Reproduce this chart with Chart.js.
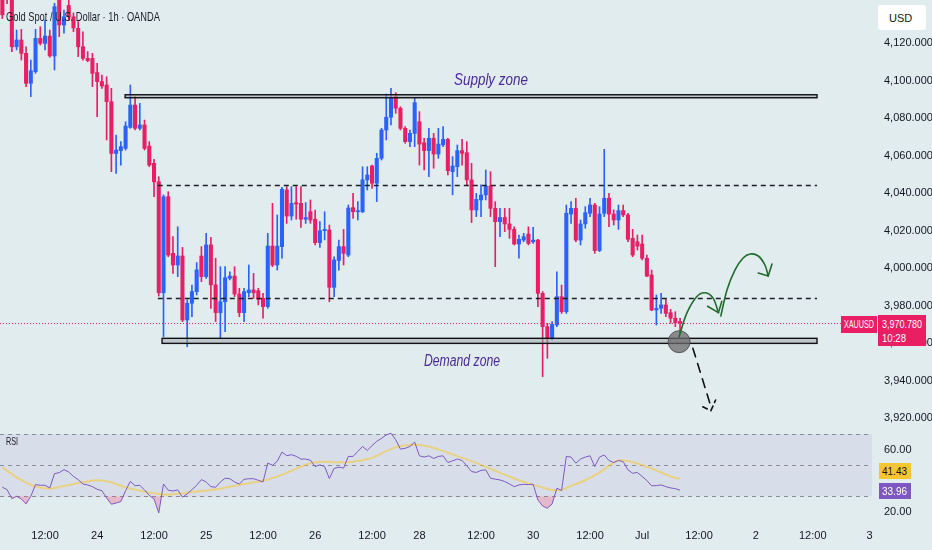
<!DOCTYPE html>
<html>
<head>
<meta charset="utf-8">
<script src="https://cdn.jsdelivr.net/npm/chart.js@4.4.1/dist/chart.umd.min.js"></script>
<style>
  html, body { margin:0; padding:0; background:#e1ecef; }
  #wrap { position:relative; width:932px; height:550px; overflow:hidden; background:#e1ecef;
          font-family:'Liberation Sans', Arial, sans-serif; color:#131722; }
  #mainCanvas { position:absolute; left:0; top:0; }
  #rsiCanvas { position:absolute; left:0; top:425px; }
  .ov { position:absolute; white-space:nowrap; transform-origin:0 50%; line-height:1; }
  #title { left:6px; top:10px; font-size:13px; color:#1a1d26; }
  .zone { font-style:italic; font-size:16px; color:#4b2a99; }
  #supplyTxt { left:454px; top:72px; }
  #demandTxt { left:424px; top:353px; }
  #rsiTxt { left:6px; top:436px; font-size:11px; }
  .box { position:absolute; box-sizing:border-box; }
  #usd { left:878px; top:5px; width:48px; height:25px; background:#ffffff; border-radius:3px; }
  #usd span { position:absolute; left:11px; top:7px; font-size:11px; }
  .tagtxt { position:absolute; white-space:nowrap; line-height:1; transform-origin:0 50%; }
</style>
</head>
<body>
<div id="wrap">
  <canvas id="mainCanvas" width="932" height="425" style="width:932px;height:425px"></canvas>
  <canvas id="rsiCanvas" width="932" height="125" style="width:932px;height:125px"></canvas>
  <div class="ov" id="title">Gold Spot / U.S. Dollar · 1h · OANDA</div>
  <div class="ov zone" id="supplyTxt">Supply zone</div>
  <div class="ov zone" id="demandTxt">Demand zone</div>
  <div class="ov" id="rsiTxt">RSI</div>
  <div class="box" id="usd"><span>USD</span></div>
  <div class="box" id="symTag" style="background:#e91e63;width:36px;height:17px;left:841px;">
    <span class="tagtxt" id="symTxt" style="left:3px;top:4px;font-size:10px;color:#fff;">XAUUSD</span></div>
  <div class="box" id="priceTag" style="background:#e91e63;width:48px;height:31px;left:878px;">
    <span class="tagtxt" id="priceTxt" style="left:4px;top:4px;font-size:11px;color:#fff;"></span>
    <span class="tagtxt" id="timeTxt" style="left:4px;top:18px;font-size:11px;color:#fff;">10:28</span></div>
  <div class="box" id="maTag" style="background:#f7c531;width:32px;height:16px;left:879px;">
    <span class="tagtxt" id="maTxt" style="left:3px;top:3px;font-size:11px;color:#131722;"></span></div>
  <div class="box" id="rsiTag" style="background:#7e57c2;width:32px;height:16px;left:879px;">
    <span class="tagtxt" id="rsiTagTxt" style="left:3px;top:3px;font-size:11px;color:#fff;"></span></div>
</div>
<script>
// ---------------- DATA ----------------
const slotCount = 184;                       // hourly slots on the time axis (incl. future space)
const tickSlots = [9, 20, 32, 43, 55, 66, 78, 88, 101, 112, 124, 135, 147, 159, 171, 183];
const tickTexts = ['12:00','24','12:00','25','12:00','26','12:00','28','12:00','30','12:00','Jul','12:00','2','12:00','3'];

const opens = [4147,4150,4145,4118.0,4121.6,4114.5,4098.5,4104.7,4122.5,4119.8,
4123.7,4113.1,4143,4129.6,4140,4134,4127.8,4118.0,4111.8,4111.8,
4104.2,4099.4,4097.6,4088.7,4061.1,4062.6,4063.8,4075.0,4086.9,4074.5,
4076.3,4065.0,4055.8,4046.0,3986.8,4038.0,4007.8,4001.6,4006.4,3972.3,
3981.2,3987.4,4006.4,3995.4,4012.3,3991.0,3976.2,3982.0,3994.5,3995.7,
3986.1,3976.2,3986.8,3988.3,3987.9,3983.8,3979.4,4011.7,4001.6,4011.4,
4041.6,4027.7,4034.9,4034.5,4026.0,4030.0,4026.0,4013.5,4019.9,4020.3,
3989.7,4004.0,4011.4,4006.9,4032.2,4030.0,4030.0,4047.0,4054.4,4045.2,
4058.5,4073.6,4080.4,4091.4,4085.2,4074.5,4067.4,4071.8,4078.0,4066.8,
4062.6,4069.2,4060.8,4065.7,4068.6,4051.4,4054.0,4062.6,4061.5,4047.0,
4031.0,4036.3,4039.0,4043.7,4031.8,4024.7,4026.9,4023.5,4020.6,4012.8,
4014.9,4018.1,4014.0,4014.9,3986.5,3968.7,3962.5,3969.6,3984.7,3976.7,
4028.8,4031.8,4014.9,4023.5,4029.2,4033.6,4009.3,4029.2,4037.2,4028.8,
4025.6,4030.6,4028.3,4015.8,4014.0,4012.8,4005.2,3996.3,3977.6,3978.5,
3980.3,3976.2,3973.2,3971.4];
const highs = [4149,4153,4147,4126.9,4127.3,4118.0,4110.9,4127.3,4128.7,4132.3,
4126.9,4141.2,4146,4137.6,4145,4136,4131.4,4126.0,4115.4,4114.5,
4109.1,4102.9,4102.0,4095.8,4070.9,4067.4,4078.0,4097.6,4091.4,4087.8,
4078.9,4067.4,4058.0,4048.7,4039.0,4040.7,4016.7,4022.0,4011.0,3983.0,
3990.9,4002.9,4011.4,4018.5,4016.4,4005.2,4000.7,4000.7,3998.0,4000.7,
3989.2,3989.2,4001.6,3997.1,3989.2,3986.5,4018.5,4034.5,4028.3,4043.0,
4043.4,4043.4,4043.4,4043.4,4034.9,4036.3,4030.9,4024.7,4030.0,4022.9,
4006.0,4014.9,4020.6,4033.6,4039.8,4035.4,4054.0,4054.0,4054.9,4061.2,
4074.5,4092.8,4095.8,4093.5,4086.0,4075.4,4073.6,4090.5,4083.4,4069.2,
4074.5,4071.8,4074.5,4075.4,4069.2,4059.4,4065.6,4068.6,4067.4,4055.8,
4039.8,4044.3,4052.3,4051.4,4035.4,4031.8,4031.8,4031.8,4022.0,4017.6,
4018.5,4022.0,4021.7,4015.3,3987.4,3970.5,3971.4,3998.0,3990.9,4033.6,
4035.4,4037.2,4025.6,4032.7,4037.2,4034.5,4032.7,4063.3,4039.8,4031.0,
4033.6,4033.6,4029.2,4020.6,4017.6,4017.6,4006.9,3998.9,3985.6,3986.5,
3983.3,3978.0,3976.7,3973.2];
const lows = [4133,4141,4115.4,4116.3,4110.9,4096.7,4091.4,4103.8,4118.9,4116.3,
4112.4,4105.6,4123.4,4125.2,4132,4126,4112.7,4110.9,4110.0,4096.7,
4080.7,4095.8,4068.3,4051.4,4050.5,4054.9,4062.9,4074.5,4073.6,4073.6,
4062.9,4054.0,4038.0,3985.0,3963.4,4006.0,3997.1,3995.4,3971.4,3958.0,
3974.0,3985.6,3992.7,3994.5,3978.5,3971.4,3962.5,3966.0,3993.6,3984.7,
3974.0,3971.4,3984.7,3983.8,3980.3,3973.2,3978.5,4000.7,3998.9,4005.2,
4023.8,4025.6,4026.0,4021.7,4023.8,4023.8,4012.3,4011.0,4015.0,3982.0,
3984.7,3998.9,4001.6,4006.0,4026.5,4025.6,4029.5,4041.6,4042.5,4035.4,
4057.6,4068.3,4076.3,4082.5,4073.6,4066.5,4064.7,4064.7,4054.9,4052.3,
4048.7,4053.2,4058.5,4064.7,4049.6,4039.0,4048.7,4054.9,4044.3,4024.2,
4027.4,4027.4,4036.3,4027.4,4000.7,4016.7,4019.4,4015.8,4012.3,4005.2,
4014.0,4012.3,4013.1,3979.4,3942.0,3951.8,3961.6,3968.7,3975.8,3975.8,
4023.8,4014.0,4012.3,4021.2,4027.4,4007.8,4008.7,4027.4,4022.0,4022.9,
4020.6,4027.4,4014.0,4006.0,4009.6,4004.3,3995.4,3977.2,3969.6,3975.8,
3974.0,3970.5,3968.7,3965.2];
const closes = [4135,4145,4118.0,4121.6,4114.5,4098.5,4105.2,4122.5,4119.8,4123.7,
4113.1,4139.4,4129.6,4134.0,4134,4128,4118.0,4111.8,4110.6,4103.8,
4099.4,4097.1,4088.7,4061.1,4062.9,4064.7,4075.7,4086.9,4074.5,4076.3,
4063.8,4054.9,4046.0,3986.8,4038.0,4006.9,4001.6,4006.4,3972.3,3981.2,
3987.4,3999.0,3995.4,4012.3,3991.0,3976.2,3982.0,3994.8,3995.7,3986.1,
3976.2,3987.4,3988.3,3986.8,3983.3,3979.4,4011.7,4001.6,4011.7,4042.0,
4027.7,4034.5,4034.1,4026.0,4026.9,4025.6,4013.5,4019.9,4020.6,3989.7,
4004.3,4011.4,4007.8,4032.0,4030.0,4030.4,4047.0,4049.6,4045.2,4058.5,
4073.6,4080.4,4090.5,4085.2,4074.5,4067.4,4071.8,4088.2,4066.1,4062.6,
4069.2,4060.8,4066.1,4068.6,4051.9,4054.4,4062.6,4061.2,4047.0,4031.0,
4036.6,4038.9,4043.7,4031.8,4024.7,4026.9,4023.5,4020.6,4012.8,4015.3,
4016.7,4013.1,4014.9,3986.5,3968.7,3962.5,3970.0,3984.7,3976.7,4029.2,
4031.8,4014.9,4023.5,4029.5,4033.6,4009.3,4028.8,4037.2,4028.8,4025.6,
4030.6,4028.3,4015.3,4006.9,4011.7,4005.2,3995.7,3977.6,3978.5,3980.3,
3975.8,3973.2,3970.9,3970.78];

const rsiValues = [35.8,34.3,28.5,30.0,28.3,25.1,30.0,37.5,37.1,37.1,
35.3,44.5,45.2,47.1,45.6,42.8,40.7,37.9,37.3,36.2,
34.5,33.6,28.9,24.9,25.7,26.6,33.6,39.6,36.8,37.1,
34.1,30.6,28.3,19.3,37.9,33.9,33.4,34.1,29.4,31.5,
34.3,37.1,40.7,39.2,36.2,35.8,39.2,41.6,41.3,39.2,
37.9,40.9,41.3,41.3,40.3,39.2,51.4,49.9,52.5,58.4,
56.1,56.7,55.7,53.9,53.9,53.2,49.1,50.2,49.1,41.4,
47.9,48.7,48.1,55.6,55.6,58.8,62.0,59.5,62.5,65.3,
67.2,69.4,70.5,66.3,60.3,60.8,62.0,64.8,56.0,55.2,
56.0,54.3,55.6,56.0,51.7,52.8,53.9,53.0,49.6,45.9,
45.3,46.6,47.0,41.6,41.0,40.5,39.5,37.9,36.2,37.3,
37.7,37.5,37.8,27.6,23.8,22.3,25.1,35.2,33.7,55.6,
55.2,51.3,53.9,55.2,56.0,49.1,55.2,56.5,53.0,51.7,
53.0,52.2,47.0,44.8,45.3,42.7,40.1,36.7,36.9,37.3,
36.2,35.4,34.9,33.96];
const rsiMaValues = [48.6,46.5,44.3,42.2,40.5,38.8,37.5,36.2,35.6,35.1,
34.9,35.3,36.0,36.6,37.3,37.9,38.6,39.0,39.6,40.1,
40.3,40.1,39.6,39.0,37.9,36.8,35.8,34.9,34.3,33.6,
33.0,32.4,31.9,31.5,31.1,31.1,31.3,31.7,31.9,32.4,
32.8,33.0,33.4,33.6,34.1,34.5,34.9,35.6,36.2,36.6,
37.3,37.9,38.3,39.0,39.4,40.1,40.7,41.8,42.8,43.9,
45.0,46.5,47.8,49.0,50.2,51.2,51.8,52.1,52.2,52.2,
51.9,51.9,51.9,51.9,52.2,52.6,53.2,53.9,54.7,56.0,
57.5,59.0,60.3,61.4,62.3,62.7,63.1,63.1,62.9,62.5,
61.8,61.0,60.1,59.0,58.0,56.9,55.8,54.7,53.7,52.6,
51.5,50.2,48.9,47.6,46.4,45.1,43.8,42.7,41.4,40.3,
39.3,38.2,37.3,36.5,35.6,34.7,34.1,33.7,34.3,35.4,
36.7,37.8,39.0,40.3,41.8,43.6,45.3,47.4,49.6,51.7,
53.0,53.0,52.6,51.9,51.1,50.0,48.9,47.9,46.6,45.3,
44.0,42.7,41.8,41.43];

const priceTicks = [3920,3940,3960,3980,4000,4020,4040,4060,4080,4100,4120];
const priceRange = [3916.27, 4142.93];
const rsiTicks = [20, 60];
const rsiRange = [9.65, 75.78];
const rsiLevels = [70, 50, 30];

// drawing annotations (in axis units: slot index, price)
const zoneRects = [
  { from: 25.9, to: 171.9, low: 4090.8, high: 4092.4 },   // supply zone
  { from: 33.7, to: 171.9, low: 3959.8, high: 3962.5 }    // demand zone
];
const levelLines = [
  { from: 32.8, to: 171.9, price: 4044.3 },
  { from: 32.8, to: 171.9, price: 3984.2 }
];
const circleMark = { slot: 142.8, price: 3960.7 };
const greenPath1 = [[142.8,3963.4],[144.4,3975.8],[146.5,3984.7],[148.3,3986.8],[150.0,3983.8],[151.1,3976.2]];
const greenHead1 = [[148.8,3979.6],[151.1,3976.2],[151.8,3982.2]];
const greenPath2 = [[151.6,3974.4],[152.9,3988.3],[154.6,3999.0],[156.3,4005.3],[157.8,4007.5],[159.5,4006.4],[160.9,4001.6],[161.6,3995.7]];
const greenHead2 = [[159.5,3997.3],[161.6,3995.7],[162.4,4002.1]];
const dashPath = [[145.7,3957.2],[149.3,3927.8]];
const dashHead = [[147.8,3926.0],[149.5,3923.9],[150.5,3929.6]];

// ---------------- BUILD ----------------
const UP = '#2962ff', DOWN = '#e91e63';
const xLabels = Array.from({length: slotCount}, () => '');
tickSlots.forEach((s, i) => { xLabels[s] = tickTexts[i]; });
const pad = arr => arr.concat(Array(slotCount - arr.length).fill(null));
const candleColors = pad(opens.map((o, i) => closes[i] >= o ? UP : DOWN));
const bodyData = pad(opens.map((o, i) => [o, closes[i]]));
const wickData = pad(lows.map((l, i) => [l, highs[i]]));
const lastClose = closes[closes.length - 1];
const FONT = "'Liberation Sans Narrow','Liberation Sans',Arial,sans-serif";

function smoothPath(ctx, pts) {
  ctx.moveTo(pts[0].x, pts[0].y);
  for (let i = 0; i < pts.length - 1; i++) {
    const p0 = pts[i - 1] || pts[i], p1 = pts[i], p2 = pts[i + 1], p3 = pts[i + 2] || p2;
    ctx.bezierCurveTo(p1.x + (p2.x - p0.x) / 6, p1.y + (p2.y - p0.y) / 6,
                      p2.x - (p3.x - p1.x) / 6, p2.y - (p3.y - p1.y) / 6, p2.x, p2.y);
  }
}

const annotPlugin = {
  id: 'annot',
  afterDatasetsDraw(chart) {
    const { ctx, chartArea } = chart;
    const xs = chart.scales.x, ys = chart.scales.y;
    const P = p => ({ x: xs.getPixelForValue(p[0]), y: ys.getPixelForValue(p[1]) });
    ctx.save();
    ctx.strokeStyle = '#e91e63'; ctx.lineWidth = 1; ctx.setLineDash([1, 2]);
    const py = Math.round(ys.getPixelForValue(lastClose)) + 0.5;
    ctx.beginPath(); ctx.moveTo(chartArea.left, py); ctx.lineTo(chartArea.right, py); ctx.stroke();
    ctx.strokeStyle = '#1d1f24'; ctx.lineWidth = 1.4; ctx.setLineDash([5, 4]);
    levelLines.forEach(l => {
      const y = Math.round(ys.getPixelForValue(l.price)) + 0.5;
      ctx.beginPath(); ctx.moveTo(xs.getPixelForValue(l.from), y); ctx.lineTo(xs.getPixelForValue(l.to), y); ctx.stroke();
    });
    ctx.setLineDash([]);
    zoneRects.forEach(z => {
      const x0 = xs.getPixelForValue(z.from), x1 = xs.getPixelForValue(z.to);
      const y0 = ys.getPixelForValue(z.high), y1 = ys.getPixelForValue(z.low);
      ctx.fillStyle = 'rgba(160,168,172,0.55)';
      ctx.fillRect(x0, y0, x1 - x0, y1 - y0);
      ctx.strokeStyle = '#111'; ctx.lineWidth = 1.4;
      ctx.strokeRect(x0, y0, x1 - x0, y1 - y0);
    });
    const c = P([circleMark.slot, circleMark.price]);
    ctx.beginPath(); ctx.arc(c.x, c.y, 11, 0, Math.PI * 2);
    ctx.fillStyle = 'rgba(105,105,105,0.75)'; ctx.fill();
    ctx.strokeStyle = 'rgba(70,70,70,0.8)'; ctx.lineWidth = 1; ctx.stroke();
    ctx.strokeStyle = '#1f6b2a'; ctx.lineWidth = 1.6; ctx.lineCap = 'round'; ctx.lineJoin = 'round';
    [[greenPath1, greenHead1], [greenPath2, greenHead2]].forEach(([path, head]) => {
      ctx.beginPath(); smoothPath(ctx, path.map(P)); ctx.stroke();
      const h = head.map(P);
      ctx.beginPath(); ctx.moveTo(h[0].x, h[0].y); ctx.lineTo(h[1].x, h[1].y); ctx.lineTo(h[2].x, h[2].y); ctx.stroke();
    });
    ctx.strokeStyle = '#111'; ctx.lineWidth = 1.6; ctx.setLineDash([9, 7]);
    const d = dashPath.map(P);
    ctx.beginPath(); ctx.moveTo(d[0].x, d[0].y); ctx.lineTo(d[1].x, d[1].y); ctx.stroke();
    ctx.setLineDash([5, 4]);
    const dh = dashHead.map(P);
    ctx.beginPath(); ctx.moveTo(dh[0].x, dh[0].y); ctx.lineTo(dh[1].x, dh[1].y); ctx.lineTo(dh[2].x, dh[2].y); ctx.stroke();
    ctx.restore();
  }
};

const fixY = s => { s.width = 60; s.paddingTop = 0; s.paddingBottom = 0; };
const noGrid = { display: false, drawTicks: false };

const mainChart = new Chart(document.getElementById('mainCanvas'), {
  type: 'bar',
  data: {
    labels: xLabels,
    datasets: [
      { data: bodyData, backgroundColor: candleColors, barThickness: 3.4, grouped: false, minBarLength: 1, order: 1 },
      { data: wickData, backgroundColor: candleColors, barThickness: 1, grouped: false, order: 2 }
    ]
  },
  options: {
    responsive: false, animation: false, events: [],
    layout: { padding: 0 },
    plugins: { legend: { display: false }, tooltip: { enabled: false } },
    scales: {
      x: { display: false, offset: true, grid: noGrid },
      y: {
        position: 'right', min: priceRange[0], max: priceRange[1],
        grid: noGrid, border: { display: false },
        afterBuildTicks: s => { s.ticks = priceTicks.map(v => ({ value: v })); },
        afterFit: fixY,
        ticks: { padding: 12, color: '#131722', font: { size: 11, family: FONT },
                 callback: v => Number(v).toLocaleString('en-US', { minimumFractionDigits: 3, maximumFractionDigits: 3 }) }
      }
    }
  },
  plugins: [annotPlugin]
});

const rsiBandPlugin = {
  id: 'rsiBand',
  beforeDatasetsDraw(chart) {
    const { ctx, chartArea } = chart; const ys = chart.scales.y;
    ctx.save();
    const yTop = ys.getPixelForValue(rsiLevels[0]), yBot = ys.getPixelForValue(rsiLevels[2]);
    ctx.fillStyle = 'rgba(126,87,194,0.09)';
    ctx.fillRect(chartArea.left, yTop, chartArea.right - chartArea.left, yBot - yTop);
    ctx.strokeStyle = '#8a8d96'; ctx.lineWidth = 1; ctx.setLineDash([4, 4]);
    rsiLevels.forEach(v => {
      const y = Math.round(ys.getPixelForValue(v)) + 0.5;
      ctx.beginPath(); ctx.moveTo(chartArea.left, y); ctx.lineTo(chartArea.right, y); ctx.stroke();
    });
    ctx.restore();
  }
};

const rsiChart = new Chart(document.getElementById('rsiCanvas'), {
  type: 'line',
  data: {
    labels: xLabels,
    datasets: [
      { data: pad(rsiValues), borderColor: '#7e57c2', borderWidth: 1, pointRadius: 0, tension: 0,
        fill: { target: { value: 30 }, above: 'rgba(0,0,0,0)', below: 'rgba(242,54,110,0.28)' } },
      { data: pad(rsiMaValues), borderColor: 'rgba(246,200,60,0.6)', borderWidth: 2, pointRadius: 0, tension: 0.3, fill: false }
    ]
  },
  options: {
    responsive: false, animation: false, events: [],
    layout: { padding: 0 },
    plugins: { legend: { display: false }, tooltip: { enabled: false } },
    scales: {
      x: { offset: true, grid: noGrid, border: { display: false },
           afterFit: s => { s.height = 22; s.paddingLeft = 0; s.paddingRight = 0; },
           ticks: { autoSkip: false, maxRotation: 0, minRotation: 0, padding: 1, color: '#131722',
                    font: { size: 11, family: FONT }, callback: (v, i) => xLabels[i] } },
      y: { position: 'right', min: rsiRange[0], max: rsiRange[1],
           grid: noGrid, border: { display: false },
           afterBuildTicks: s => { s.ticks = rsiTicks.map(v => ({ value: v })); },
           afterFit: fixY,
           ticks: { padding: 12, color: '#131722', font: { size: 11, family: FONT }, callback: v => Number(v).toFixed(2) } }
    }
  },
  plugins: [rsiBandPlugin]
});

// ---------------- OVERLAY TEXT ----------------
function fitWidth(el, w) {
  const r = el.getBoundingClientRect().width;
  if (r > 0) el.style.transform = 'scaleX(' + (w / r).toFixed(3) + ')';
}
fitWidth(document.getElementById('title'), 154);
fitWidth(document.getElementById('supplyTxt'), 74);
fitWidth(document.getElementById('demandTxt'), 76);
fitWidth(document.getElementById('rsiTxt'), 12);
fitWidth(document.getElementById('symTxt'), 30);

const lastY = mainChart.scales.y.getPixelForValue(lastClose);
document.getElementById('symTag').style.top = (lastY - 7) + 'px';
document.getElementById('priceTag').style.top = (lastY - 8) + 'px';
document.getElementById('priceTxt').textContent = lastClose.toLocaleString('en-US', { minimumFractionDigits: 3 });
fitWidth(document.getElementById('priceTxt'), 40);
fitWidth(document.getElementById('timeTxt'), 24);

const lastRsi = rsiValues[rsiValues.length - 1], lastMa = rsiMaValues[rsiMaValues.length - 1];
const rsiY = 425 + rsiChart.scales.y.getPixelForValue(lastRsi);
document.getElementById('rsiTag').style.top = (rsiY - 7) + 'px';
document.getElementById('maTag').style.top = (rsiY - 7 - 20) + 'px';
document.getElementById('rsiTagTxt').textContent = lastRsi.toFixed(2);
document.getElementById('maTxt').textContent = lastMa.toFixed(2);
fitWidth(document.getElementById('rsiTagTxt'), 25);
fitWidth(document.getElementById('maTxt'), 25);
</script>
</body>
</html>
